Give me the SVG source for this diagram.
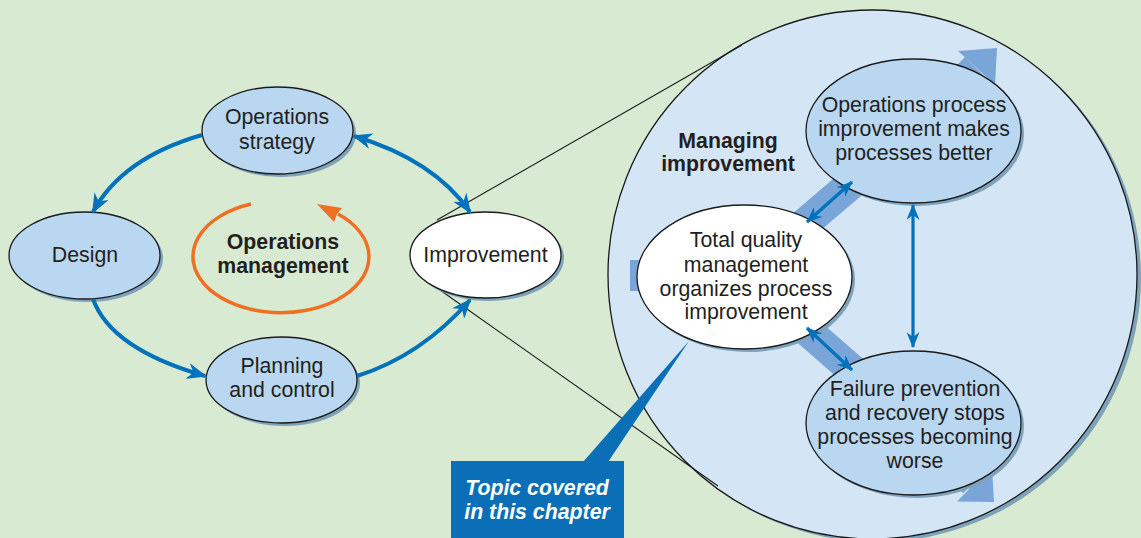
<svg xmlns="http://www.w3.org/2000/svg" width="1141" height="538" viewBox="0 0 1141 538">
<style>
.node{fill:#b9d7f0;stroke:#1a1a1a;stroke-width:1.3}
.white{fill:#ffffff;stroke:#1a1a1a;stroke-width:1.3}
.shadow{fill:#7fa2bb}
.lbl{font-family:"Liberation Sans",Arial,sans-serif;font-size:21.3px;fill:#231f20;text-anchor:middle}
.bold{font-weight:bold}
.conn{fill:none;stroke:#0072bc;stroke-width:4}
.small{fill:none;stroke:#0072bc;stroke-width:3.2}
.thin{fill:none;stroke:#1a1a1a;stroke-width:1.1}
.band{fill:none;stroke:#7aa5d8;stroke-width:31}
</style>
<defs>
<marker id="ah" markerUnits="userSpaceOnUse" viewBox="0 0 20 16" refX="18" refY="8" markerWidth="20" markerHeight="16" orient="auto-start-reverse">
<path d="M0,0 L20,8 L0,16 L6,8 z" fill="#0072bc"/>
</marker>
<marker id="ahs" markerUnits="userSpaceOnUse" viewBox="0 0 16 13" refX="15" refY="6.5" markerWidth="16" markerHeight="13" orient="auto-start-reverse">
<path d="M0,0 L16,6.5 L0,13 L5,6.5 z" fill="#0072bc"/>
</marker>
</defs>
<rect x="0" y="0" width="1141" height="538" fill="#d9ead3"/>

<g id="big-circle">
<circle cx="876.5" cy="277.5" r="264.5" fill="#7fa2bb"/>
<circle cx="872.5" cy="274.5" r="264.5" fill="#d4e5f5" stroke="#1a1a1a" stroke-width="1.3"/>
</g>

<g id="zoom-lines">
<line class="thin" x1="437" y1="220" x2="742" y2="45"/>
<line class="thin" x1="440" y1="290" x2="718" y2="486"/>
</g>

<g id="band">
<polyline class="band" points="630,275.5 744,275.5 913,131 976,68"/>
<polyline class="band" points="744,275.5 913,423 974,482"/>
<polygon points="997,48 958,51 995,85" fill="#7aa5d8"/>
<polygon points="994,502 957,501.5 992,466" fill="#7aa5d8"/>
</g>

<g id="label-managing">
<text class="lbl bold" x="728" y="148">Managing</text>
<text class="lbl bold" x="728" y="171">improvement</text>
</g>

<g id="node-opi">
<ellipse class="shadow" cx="916.5" cy="134" rx="107.5" ry="72"/>
<ellipse class="node" cx="913.5" cy="131" rx="107.5" ry="72"/>
<text class="lbl" x="914" y="112">Operations process</text>
<text class="lbl" x="914" y="136">improvement makes</text>
<text class="lbl" x="914" y="160">processes better</text>
</g>

<g id="node-tqm">
<ellipse class="shadow" cx="747.5" cy="280" rx="107.5" ry="72"/>
<ellipse class="white" cx="744.5" cy="277" rx="107.5" ry="72"/>
<text class="lbl" x="746" y="247">Total quality</text>
<text class="lbl" x="746" y="272">management</text>
<text class="lbl" x="746" y="296">organizes process</text>
<text class="lbl" x="746" y="319">improvement</text>
</g>

<g id="node-fpr">
<ellipse class="shadow" cx="916.5" cy="426" rx="107.5" ry="72"/>
<ellipse class="node" cx="913.5" cy="423" rx="107.5" ry="72"/>
<text class="lbl" x="915" y="396">Failure prevention</text>
<text class="lbl" x="915" y="420">and recovery stops</text>
<text class="lbl" x="915" y="444">processes becoming</text>
<text class="lbl" x="915" y="468">worse</text>
</g>

<g id="node-strategy">
<ellipse class="shadow" cx="280.5" cy="133.5" rx="75.5" ry="43.5"/>
<ellipse class="node" cx="277.5" cy="130.5" rx="75.5" ry="43.5"/>
<text class="lbl" x="277" y="124">Operations</text>
<text class="lbl" x="277" y="149">strategy</text>
</g>

<g id="node-design">
<ellipse class="shadow" cx="87.5" cy="258.5" rx="75.5" ry="43.5"/>
<ellipse class="node" cx="84.5" cy="255.5" rx="75.5" ry="43.5"/>
<text class="lbl" x="85" y="262">Design</text>
</g>

<g id="node-planning">
<ellipse class="shadow" cx="284.5" cy="383" rx="75.5" ry="43"/>
<ellipse class="node" cx="281.5" cy="380" rx="75.5" ry="43"/>
<text class="lbl" x="282" y="373">Planning</text>
<text class="lbl" x="282" y="397">and control</text>
</g>

<g id="node-improvement">
<ellipse class="shadow" cx="488.5" cy="258" rx="75.5" ry="43"/>
<ellipse class="white" cx="485.5" cy="255" rx="75.5" ry="43"/>
<text class="lbl" x="485.5" y="262">Improvement</text>
</g>

<g id="node-opsmgmt">
<path d="M251,204 A88 56 0 1 0 338,214" fill="none" stroke="#f07023" stroke-width="3.5"/>
<polygon points="317,204 342,208 337,214 334,222" fill="#f07023"/>
<text class="lbl bold" x="283" y="249">Operations</text>
<text class="lbl bold" x="283" y="273">management</text>
</g>

<g id="connectors">
<path class="conn" d="M202,135 Q122,158 93,212" marker-end="url(#ah)"/>
<path class="conn" d="M354,136 Q434,160 470,212" marker-start="url(#ah)" marker-end="url(#ah)"/>
<path class="conn" d="M93,299 Q111,349 205,376" marker-end="url(#ah)"/>
<path class="conn" d="M357,376 Q421,356 470,300" marker-end="url(#ah)"/>
<line class="small" x1="807" y1="222" x2="852" y2="182" marker-start="url(#ahs)" marker-end="url(#ahs)"/>
<line class="small" x1="807" y1="328" x2="852" y2="370" marker-start="url(#ahs)" marker-end="url(#ahs)"/>
<line class="small" x1="913" y1="205" x2="913" y2="347" marker-start="url(#ahs)" marker-end="url(#ahs)"/>
</g>

<g id="callout">
<polygon points="583,462 608,462 689,341" fill="#0a6fb6"/>
<rect x="451" y="461" width="173" height="80" fill="#0a6fb6"/>
<text class="lbl bold" x="537" y="495" font-style="italic" style="fill:#ffffff">Topic covered</text>
<text class="lbl bold" x="537" y="519" font-style="italic" style="fill:#ffffff">in this chapter</text>
</g>
</svg>
